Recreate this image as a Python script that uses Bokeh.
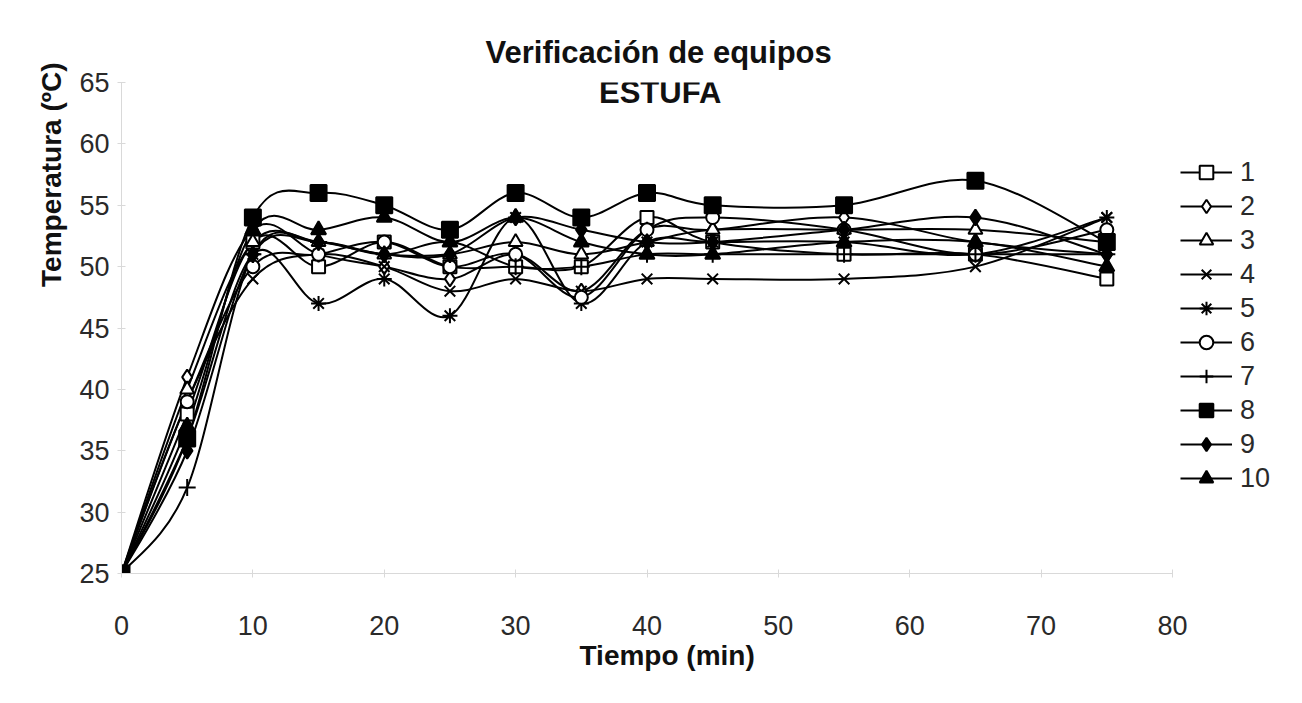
import math
from bokeh.plotting import figure
from bokeh.models import Range1d, Legend, LegendItem, Label, FixedTicker, Title
from bokeh.embed import file_html
from bokeh.resources import INLINE

# ---------------- data ----------------
tiempo = [0, 5, 10, 15, 20, 25, 30, 35, 40, 45, 55, 65, 75]
s1 = [25, 38, 52, 50, 52, 50, 50, 50, 54, 52, 51, 51, 49]
s2 = [25, 41, 53, 51, 50, 49, 51, 48, 53, 53, 54, 52, 51]
s3 = [25, 40, 52, 52, 51, 51, 52, 51, 52, 53, 53, 53, 52]
s4 = [25, 39, 49, 51, 50, 48, 49, 48, 49, 49, 49, 50, 54]
s5 = [25, 36, 51, 47, 49, 46, 54, 47, 52, 52, 52, 51, 54]
s6 = [25, 39, 50, 51, 52, 50, 51, 47.5, 53, 54, 53, 51, 53]
s7 = [25, 32, 51, 52, 51, 52, 50, 50, 51, 51, 51, 51, 51]
s8 = [25, 36, 54, 56, 55, 53, 56, 54, 56, 55, 55, 57, 52]
s9 = [25, 35, 51, 52, 51, 51, 54, 53, 52, 52, 53, 54, 51]
s10 = [25, 37, 53, 53, 54, 52, 54, 52, 51, 51, 52, 52, 50]
series = [s1, s2, s3, s4, s5, s6, s7, s8, s9, s10]
names = ["1", "2", "3", "4", "5", "6", "7", "8", "9", "10"]
x_ticks = [0, 10, 20, 30, 40, 50, 60, 70, 80]
y_ticks = [25, 30, 35, 40, 45, 50, 55, 60, 65]

markers = ["square", "diamond", "triangle", "x", "asterisk", "circle", "cross",
           "square", "diamond", "triangle"]
fills = ["white", "white", "white", "white", "white", "white", "white",
         "black", "black", "black"]
sizes = [13, 15, 14, 15, 15, 13, 17, 16, 16, 15]
draw_order = [0, 1, 2, 3, 4, 5, 6, 8, 9, 7]  # filled square drawn on top

FONT = "Liberation Sans"

p = figure(frame_width=1051, frame_height=491,
           output_backend="svg", toolbar_location=None,
           x_range=Range1d(0, 80), y_range=Range1d(25, 65),
           min_border_left=121, min_border_right=10,
           min_border_top=82, min_border_bottom=130)
p.outline_line_color = None
p.xgrid.grid_line_color = None
p.ygrid.grid_line_color = None
p.background_fill_color = "white"
p.border_fill_color = "white"

p.title.text = "Verificación de equipos"
p.title.align = "left"
p.title.offset = 364
p.title.text_font = FONT
p.title.text_font_size = "31px"
p.title.text_font_style = "bold"
p.title.text_color = "#111111"
p.title.standoff = 25

for ax, ticks in ((p.xaxis, x_ticks), (p.yaxis, y_ticks)):
    ax.ticker = FixedTicker(ticks=ticks)
    ax.axis_line_color = "#d9d9d9"
    ax.major_tick_line_color = "#d9d9d9"
    ax.minor_tick_line_color = None
    ax.major_tick_in = 4
    ax.major_tick_out = 4
    ax.major_label_text_font = FONT
    ax.major_label_text_font_size = "27px"
    ax.major_label_text_color = "#2a2a2a"
p.xaxis.major_label_standoff = 38
p.yaxis.major_label_standoff = 8


def ctrl(xs, ys):
    n = len(xs)
    out = {"x0": [], "y0": [], "x1": [], "y1": [],
           "cx0": [], "cy0": [], "cx1": [], "cy1": []}
    for i in range(n - 1):
        im = max(i - 1, 0)
        ip = min(i + 2, n - 1)
        out["x0"].append(xs[i]); out["y0"].append(ys[i])
        out["x1"].append(xs[i + 1]); out["y1"].append(ys[i + 1])
        out["cx0"].append(xs[i] + (xs[i + 1] - xs[im]) / 6.0)
        out["cy0"].append(ys[i] + (ys[i + 1] - ys[im]) / 6.0)
        out["cx1"].append(xs[i + 1] - (xs[ip] - xs[i]) / 6.0)
        out["cy1"].append(ys[i + 1] - (ys[ip] - ys[i]) / 6.0)
    return out


nan = float("nan")
item_map = {}
for k in draw_order:
    ys = series[k]
    c = ctrl(tiempo, ys)
    p.bezier(x0=c["x0"], y0=c["y0"], x1=c["x1"], y1=c["y1"],
             cx0=c["cx0"], cy0=c["cy0"], cx1=c["cx1"], cy1=c["cy1"],
             line_color="black", line_width=2)
for k in draw_order:
    ys = series[k]
    sc = p.scatter(tiempo, ys, marker=markers[k], size=sizes[k],
                   fill_color=fills[k], line_color="black", line_width=2)
    # legend-only line sample (no visible data in the plot)
    leg_line = p.line(x=[nan, nan], y=[nan, nan], line_color="black",
                      line_width=2)
    item_map[k] = LegendItem(label=names[k], renderers=[leg_line, sc])
items = [item_map[k] for k in range(len(series))]

legend = Legend(items=items, location=(8, 78), margin=0, padding=8,
                spacing=0, glyph_width=52, glyph_height=34, label_height=34,
                label_standoff=8, label_text_font=FONT,
                label_text_font_size="27px", label_text_color="#2a2a2a",
                border_line_color=None, background_fill_alpha=0)
p.add_layout(legend, "right")

# second title line (sits just inside the plot area, as in the reference)
p.add_layout(Label(x=41.0, y=64.2, text="ESTUFA", text_font=FONT,
                   text_font_size="31px", text_font_style="bold",
                   text_align="center", text_baseline="middle",
                   text_color="#111111"))

# y axis title, placed toward the top like the reference
p.add_layout(Title(text="Temperatura (ºC)", align="right", offset=-20,
                   text_font=FONT, text_font_size="28px",
                   text_font_style="bold", text_color="#111111",
                   standoff=20), "left")

# x axis title, slightly right of the frame centre
p.add_layout(Title(text="Tiempo (min)", align="left", offset=458,
                   text_font=FONT, text_font_size="28px",
                   text_font_style="bold", text_color="#111111",
                   standoff=0), "below")

open("out.html", "w").write(file_html(p, INLINE))
